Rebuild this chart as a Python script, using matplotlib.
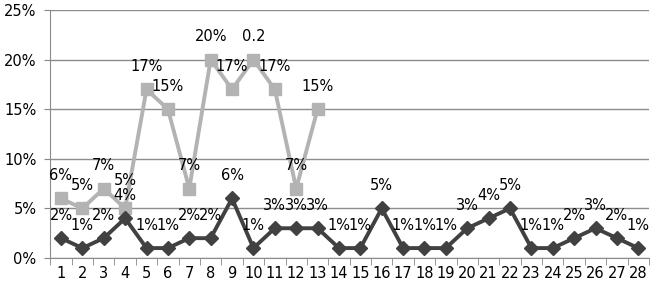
import matplotlib.pyplot as plt
import numpy as np

# Datos
categorias = list(range(1, 29))
serie_oscura = [2, 1, 2, 4, 1, 1, 2, 2, 6, 1, 3, 3, 3, 1, 1, 5, 1, 1, 1, 3, 4, 5, 1, 1, 2, 3, 2, 1]
serie_clara = [6, 5, 7, 5, 17, 15, 7, 20, 17, 20, 17, 7, 15]
etiquetas_clara = ['6%', '5%', '7%', '5%', '17%', '15%', '7%', '20%', '17%', '0.2', '17%', '7%', '15%']
etiquetas_oscura = [f'{v}%' for v in serie_oscura]
yticks = [0, 5, 10, 15, 20, 25]

fig = plt.figure(figsize=(6.54, 2.88), dpi=100)
ax = fig.add_axes([50.3 / 654, 30 / 288, 598.7 / 654, 248 / 288])

gris_claro = '#b3b3b3'
gris_oscuro = '#414141'

x_clara = categorias[:len(serie_clara)]
ax.plot(x_clara, serie_clara, color=gris_claro, linewidth=2.8, marker='s', markersize=9, zorder=3)
ax.plot(categorias, serie_oscura, color=gris_oscuro, linewidth=2.8, marker='D', markersize=7, zorder=4)

# Etiquetas de datos encima de cada punto
for i, (x, v, t) in enumerate(zip(x_clara, serie_clara, etiquetas_clara)):
    dy = 15 if i == 3 else 11  # el 5% del punto 4 choca con el 4%
    ax.annotate(t, (x, v), xytext=(0, dy), textcoords='offset points', ha='center', va='bottom', fontsize=10.5, zorder=5)
for x, v, t in zip(categorias, serie_oscura, etiquetas_oscura):
    ax.annotate(t, (x, v), xytext=(0, 11), textcoords='offset points', ha='center', va='bottom', fontsize=10.5, zorder=5)

ax.set_xlim(0.5, 28.5)
ax.set_ylim(0, 25)
ax.set_yticks(yticks)
ax.set_yticklabels([f'{v}%' for v in yticks], fontsize=10.5)
ax.set_xticks(categorias)
ax.set_xticklabels([str(c) for c in categorias], fontsize=10.5)
ax.set_xticks(np.arange(0.5, 29, 1), minor=True)
ax.tick_params(axis='x', which='major', length=0, pad=6)
ax.tick_params(axis='x', which='minor', length=5, color='#888888', direction='out')
ax.tick_params(axis='y', length=4, color='#888888', pad=6)

ax.grid(True, axis='y', color='#8c8c8c', linewidth=1)
ax.set_axisbelow(True)
for s in ['top', 'right']:
    ax.spines[s].set_visible(False)
ax.spines['left'].set_color('#8c8c8c')
ax.spines['bottom'].set_color('#8c8c8c')

plt.savefig('out.png', dpi=100)
